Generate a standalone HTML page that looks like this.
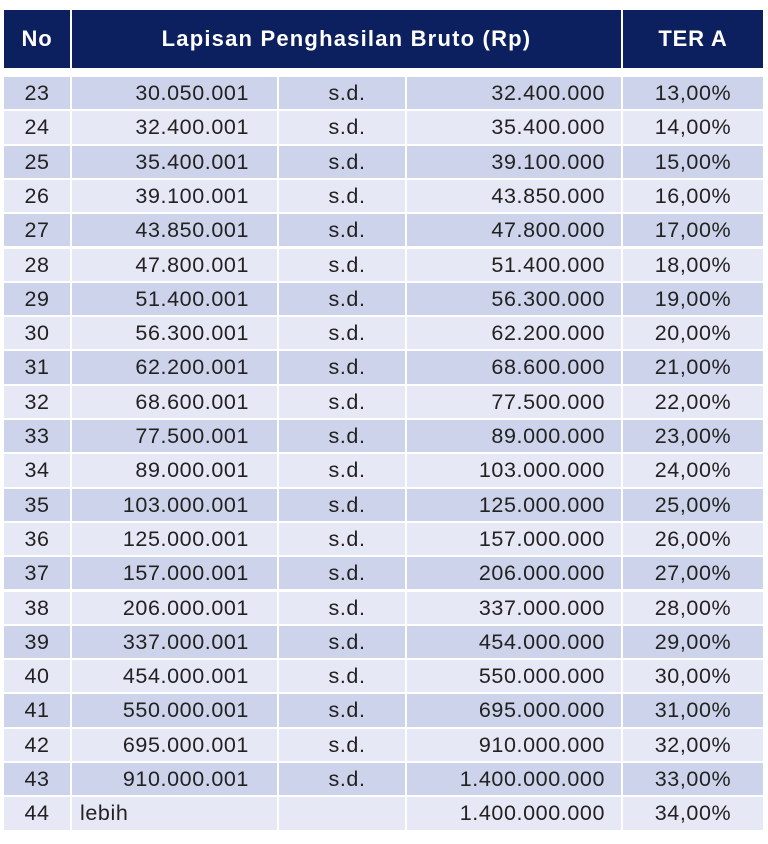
<!DOCTYPE html>
<html><head><meta charset="utf-8"><style>
body{margin:0;width:768px;height:844px;background:#fff;font-family:"Liberation Sans",sans-serif;position:relative;overflow:hidden}
.c{position:absolute;box-sizing:border-box;font-size:21.5px;letter-spacing:0.6px;color:#222;line-height:33px;white-space:nowrap}
.h{background:#0c1f5e;color:#fff;font-weight:bold;text-align:center;line-height:58px;font-size:22px;letter-spacing:0.8px}
</style></head><body>
<div class="c h" style="left:4px;top:10px;width:66px;height:58px">No</div>
<div class="c h" style="left:72px;top:10px;width:549px;height:58px;letter-spacing:1.2px">Lapisan Penghasilan Bruto (Rp)</div>
<div class="c h" style="left:623px;top:10px;width:140px;height:58px">TER A</div>
<div id="rows"></div>
<script>
const nums=[23,24,25,26,27,28,29,30,31,32,33,34,35,36,37,38,39,40,41,42,43,44];
const lows=["30.050.001","32.400.001","35.400.001","39.100.001","43.850.001","47.800.001","51.400.001","56.300.001","62.200.001","68.600.001","77.500.001","89.000.001","103.000.001","125.000.001","157.000.001","206.000.001","337.000.001","454.000.001","550.000.001","695.000.001","910.000.001","lebih"];
const highs=["32.400.000","35.400.000","39.100.000","43.850.000","47.800.000","51.400.000","56.300.000","62.200.000","68.600.000","77.500.000","89.000.000","103.000.000","125.000.000","157.000.000","206.000.000","337.000.000","454.000.000","550.000.000","695.000.000","910.000.000","1.400.000.000","1.400.000.000"];
const rates=["13,00%","14,00%","15,00%","16,00%","17,00%","18,00%","19,00%","20,00%","21,00%","22,00%","23,00%","24,00%","25,00%","26,00%","27,00%","28,00%","29,00%","30,00%","31,00%","32,00%","33,00%","34,00%"];
const cont=document.getElementById('rows');
const cols=[[4,66,'center'],[72,205,'right'],[279,126,'center'],[407,214,'right'],[623,140,'center']];
nums.forEach((n,i)=>{
  const top=77+i*34.3, bg=i%2===0?'#cdd3ea':'#e6e8f5';
  const last=i===nums.length-1;
  const vals=[String(n),lows[i],last?'':'s.d.',highs[i],rates[i]];
  const names=['row-no','row-lower','row-sd','row-upper','row-ter'];
  cols.forEach((c,j)=>{
    const d=document.createElement('div');
    d.className='c';
    
    
    let al=c[2]; if(last&&j===1) al='left';
    d.style.cssText=`left:${c[0]}px;top:${top}px;width:${c[1]}px;height:32.3px;background:${bg};text-align:${al};padding:0 ${j===1?28:(j===3?16:0)}px 0 ${last&&j===1?8:(j===2?10:0)}px`;
    d.textContent=vals[j];
    cont.appendChild(d);
  });
});
</script>
</body></html>
